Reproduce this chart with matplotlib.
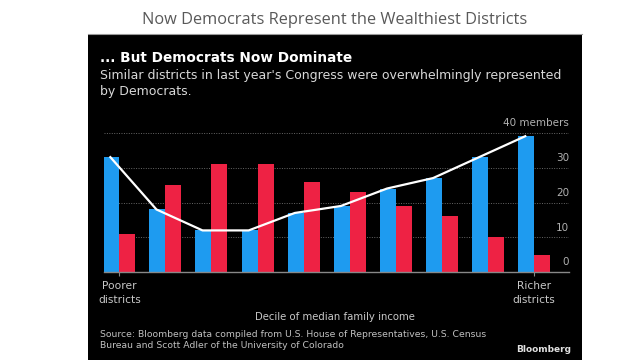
import matplotlib
matplotlib.use("Agg")
import matplotlib.pyplot as plt
import numpy as np
from matplotlib.patches import Rectangle

deciles = list(range(1, 11))
democrats = [33, 18, 12, 12, 17, 19, 24, 27, 33, 39]
republicans = [11, 25, 31, 31, 26, 23, 19, 16, 10, 5]
yticks = [0, 10, 20, 30, 40]
ytick_labels = ["0", "10", "20", "30", "40 members"]

W, H = 640, 360
fig = plt.figure(figsize=(6.4, 3.6), dpi=100)
fig.patch.set_facecolor("white")

def fx(x):
    return x / W

def fy(y):
    return 1 - y / H

# black panel
panel = Rectangle((fx(87.7), 0), fx(582.3) - fx(87.7), fy(34.3),
                  transform=fig.transFigure, facecolor="black",
                  edgecolor="none", zorder=-10)
fig.add_artist(panel)
fig.add_artist(plt.Line2D([fx(87.7), fx(582.3)], [fy(34.3), fy(34.3)],
                          transform=fig.transFigure, color="#999999", lw=0.8, zorder=-9))

fig.text(fx(335), fy(20), "Now Democrats Represent the Wealthiest Districts",
         ha="center", va="center", fontsize=11.75, color="#595959", family="Open Sans")

sans = "DejaVu Sans"
fig.text(fx(99.5), fy(58), "... But Democrats Now Dominate", ha="left", va="center",
         fontsize=9.8, fontweight="bold", color="white", family=sans)
fig.text(fx(99.5), fy(75), "Similar districts in last year's Congress were overwhelmingly represented",
         ha="left", va="center", fontsize=9.0, color="#d8d8d8", family=sans)
fig.text(fx(99.5), fy(91), "by Democrats.", ha="left", va="center",
         fontsize=9.0, color="#d8d8d8", family=sans)

ax = fig.add_axes([fx(103.7), fy(272.3), fx(569) - fx(103.7), fy(132.7) - fy(272.3)])
ax.set_facecolor("none")
x = np.arange(len(deciles))
bw = 0.347
ax.bar(x - bw / 2, democrats, width=bw, color="#1e9bf0", zorder=2)
ax.bar(x + bw / 2, republicans, width=bw, color="#ee2244", zorder=2)
ax.plot(x - bw / 2 - 0.02, democrats, color="white", lw=1.6, zorder=3)

ax.set_xlim(-0.338, 9.755)
ax.set_ylim(0, 40)
for t in yticks[1:]:
    ax.axhline(t, color="#666666", lw=0.7, ls=(0, (1, 1.5)), zorder=1)
for t, lab in zip(yticks, ytick_labels):
    ax.text(1.0, t + 1.4, lab, transform=ax.get_yaxis_transform(), ha="right",
            va="bottom", fontsize=7.5, color="#b0b0b0", family=sans)

for s in ["top", "right", "left"]:
    ax.spines[s].set_visible(False)
ax.spines["bottom"].set_color("#888888")
ax.spines["bottom"].set_linewidth(1)
ax.set_yticks([])
ax.set_xticks([0, 9])
ax.set_xticklabels(["Poorer\ndistricts", "Richer\ndistricts"], fontsize=7.7,
                   color="#c8c8c8", family=sans, linespacing=1.45)
ax.tick_params(axis="x", colors="#888888", length=3, width=0.8, pad=3.5,
               labelcolor="#c8c8c8")

fig.text(fx(335), fy(316.7), "Decile of median family income", ha="center", va="center",
         fontsize=7.3, color="#c8c8c8", family=sans)
fig.text(fx(99.5), fy(334.3), "Source: Bloomberg data compiled from U.S. House of Representatives, U.S. Census",
         ha="left", va="center", fontsize=6.65, color="#c0c0c0", family=sans)
fig.text(fx(99.5), fy(346), "Bureau and Scott Adler of the University of Colorado",
         ha="left", va="center", fontsize=6.65, color="#c0c0c0", family=sans)
fig.text(fx(571.5), fy(350), "Bloomberg", ha="right", va="center", fontsize=6.5,
         fontweight="bold", color="#e0e0e0", family=sans)

fig.savefig("out.png", dpi=100, facecolor="white")
